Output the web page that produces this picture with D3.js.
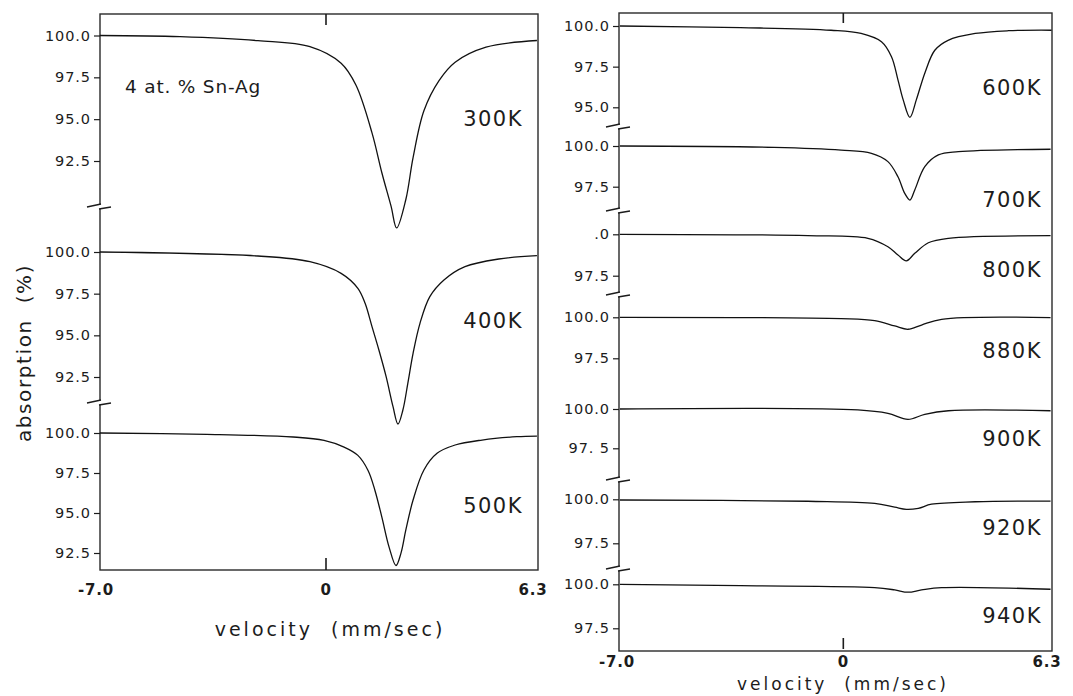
<!DOCTYPE html>
<html><head><meta charset="utf-8">
<script src="https://cdn.jsdelivr.net/npm/d3@7"></script>
<style>
body{margin:0;background:#fff}
svg{display:block}
text{font-family:"DejaVu Sans",sans-serif;fill:#1c1c1c}
</style></head><body>
<svg id="chart" width="1073" height="696"></svg>
<script>
// ---------------- data ----------------
const xTickValues = [-7.0, 0, 6.3];
const xTickLabels = ["-7.0", "0", "6.3"];
const xAxisTitle = "velocity  (mm/sec)";
const yAxisTitle = "absorption  (%)";
const sampleLabel = "4 at. % Sn-Ag";

const temperaturesLeft = ["300K", "400K", "500K"];
const temperaturesRight = ["600K", "700K", "800K", "880K", "900K", "920K", "940K"];

// [velocity (mm/s), absorption (%)]
const spec300 = [[-6.88,100.0],[-4.44,99.93],[-2.07,99.69],[-0.49,99.33],[0.46,98.34],[0.91,97.04],[1.40,94.18],[1.70,91.8],[1.98,89.8],[2.15,88.5],[2.43,90.2],[2.65,92.7],[2.98,95.5],[3.44,97.3],[3.93,98.4],[4.87,99.3],[6.42,99.7]];
const spec400 = [[-6.88,100.0],[-2.07,99.76],[-0.49,99.42],[0.46,98.72],[0.97,97.82],[1.19,96.92],[1.40,95.52],[1.61,94.12],[1.83,92.52],[2.04,90.72],[2.19,89.68],[2.34,90.52],[2.49,92.12],[2.65,93.92],[2.86,95.72],[3.16,97.32],[3.59,98.32],[4.23,99.12],[5.26,99.58],[6.42,99.78]];
const spec500 = [[-6.88,100.0],[-3.63,99.92],[-1.0,99.75],[-0.06,99.54],[0.55,99.12],[0.97,98.6],[1.28,97.66],[1.49,96.41],[1.70,94.74],[1.92,92.87],[2.13,91.72],[2.28,92.48],[2.43,93.94],[2.65,95.81],[2.98,97.69],[3.38,98.73],[3.93,99.25],[4.75,99.56],[5.81,99.77],[6.42,99.81]];
const spec600 = [[-6.91,100.0],[-3.18,99.9],[-0.38,99.74],[0.55,99.54],[1.18,99.03],[1.49,98.11],[1.69,96.69],[1.85,95.47],[2.06,94.38],[2.26,95.47],[2.52,97.1],[2.83,98.51],[3.24,99.12],[4.08,99.54],[5.11,99.71],[6.44,99.74]];
const spec700 = [[-6.91,100.0],[-2.14,99.92],[-0.07,99.75],[0.87,99.55],[1.38,99.04],[1.69,98.11],[1.90,97.09],[2.06,96.68],[2.21,97.3],[2.52,98.73],[2.94,99.45],[3.56,99.65],[6.41,99.8]];
const spec800 = [[-6.91,100.0],[-1.10,99.92],[0.76,99.76],[1.38,99.25],[1.69,98.75],[1.95,98.40],[2.21,98.85],[2.63,99.49],[3.25,99.76],[6.41,99.92]];
const spec880 = [[-6.91,100.0],[-0.07,99.92],[0.97,99.8],[1.59,99.47],[2.00,99.27],[2.42,99.53],[3.04,99.88],[6.41,99.98]];
const spec900 = [[-6.91,100.0],[0.45,99.94],[1.38,99.72],[2.00,99.34],[2.52,99.66],[3.25,99.89],[6.41,99.89]];
const spec920 = [[-6.91,99.96],[-1.10,99.89],[0.97,99.77],[1.59,99.55],[1.95,99.43],[2.32,99.49],[2.73,99.72],[4.08,99.86],[6.41,99.9]];
const spec940 = [[-6.91,100.0],[-3.18,99.92],[0.97,99.81],[1.59,99.68],[2.00,99.55],[2.42,99.68],[3.04,99.81],[6.41,99.72]];

const yTicksLeft = [100.0, 97.5, 95.0, 92.5];
const yTickLabelsLeft = ["100.0", "97.5", "95.0", "92.5"];
const yTicks600 = [100.0, 97.5, 95.0];
const yTickLabels600 = ["100.0", "97.5", "95.0"];
const yTicksRight = [100.0, 97.5];
const yTickLabelsRight = ["100.0", "97.5"];
const yTickLabels800 = [".0", "97.5"];
const yTickLabels900 = ["100.0", "97. 5"];

// ---------------- layout ----------------
const svg = d3.select("#chart");
const ink = "#1c1c1c";

const panels = [
  { frame: {x0: 100, x1: 538, y0: 14, y1: 570}, xRange: [96, 533], xLabelY: 595,
    titleX: 330, titleY: 636, titleSize: 19, breaks: [206, 402], ticksTopBottom: [[14, 25], [558, 570]],
    spectra: [
      {data: spec300, name: temperaturesLeft[0], ticks: yTicksLeft, labels: yTickLabelsLeft, dom: [100, 92.5], rng: [35.5, 161], ly: 126},
      {data: spec400, name: temperaturesLeft[1], ticks: yTicksLeft, labels: yTickLabelsLeft, dom: [100, 92.5], rng: [252, 377], ly: 328},
      {data: spec500, name: temperaturesLeft[2], ticks: yTicksLeft, labels: yTickLabelsLeft, dom: [100, 92.5], rng: [433, 553], ly: 513}
    ], labelRight: 523 },
  { frame: {x0: 619, x1: 1052, y0: 13, y1: 651}, xRange: [617, 1047], xLabelY: 667,
    titleX: 843, titleY: 690, titleSize: 17, breaks: [126, 210, 294, 479, 568], ticksTopBottom: [[13, 23], [638, 649]],
    spectra: [
      {data: spec600, name: temperaturesRight[0], ticks: yTicks600, labels: yTickLabels600, dom: [100, 95], rng: [26, 107.3], ly: 95},
      {data: spec700, name: temperaturesRight[1], ticks: yTicksRight, labels: yTickLabelsRight, dom: [100, 97.5], rng: [146, 186.7], ly: 207},
      {data: spec800, name: temperaturesRight[2], ticks: yTicksRight, labels: yTickLabels800, dom: [100, 97.5], rng: [234.3, 275.7], ly: 277},
      {data: spec880, name: temperaturesRight[3], ticks: yTicksRight, labels: yTickLabelsRight, dom: [100, 97.5], rng: [317.3, 358.3], ly: 358},
      {data: spec900, name: temperaturesRight[4], ticks: yTicksRight, labels: yTickLabels900, dom: [100, 97.5], rng: [409, 448.3], ly: 446},
      {data: spec920, name: temperaturesRight[5], ticks: yTicksRight, labels: yTickLabelsRight, dom: [100, 97.5], rng: [499.3, 543.3], ly: 535},
      {data: spec940, name: temperaturesRight[6], ticks: yTicksRight, labels: yTickLabelsRight, dom: [100, 97.5], rng: [584.3, 628.3], ly: 623}
    ], labelRight: 1042 }
];

panels.forEach(p => {
  const g = svg.append("g");
  const f = p.frame;
  const x = d3.scaleLinear().domain([xTickValues[0], xTickValues[2]]).range(p.xRange);

  // frame
  g.append("rect").attr("x", f.x0).attr("y", f.y0)
    .attr("width", f.x1 - f.x0).attr("height", f.y1 - f.y0)
    .attr("fill", "none").attr("stroke", "#2a2a2a").attr("stroke-width", 1.4);

  // zero ticks top & bottom
  p.ticksTopBottom.forEach(t => {
    g.append("line").attr("x1", x(0)).attr("x2", x(0)).attr("y1", t[0]).attr("y2", t[1])
      .attr("stroke", ink).attr("stroke-width", 1.6);
  });

  // x tick labels
  g.selectAll(".xl").data(xTickValues).enter().append("text")
    .attr("x", d => x(d)).attr("y", p.xLabelY).attr("text-anchor", "middle")
    .attr("font-size", 15).attr("font-weight", "bold").attr("letter-spacing", 0.8)
    .text((d, i) => xTickLabels[i]);

  // x title
  g.append("text").attr("x", p.titleX).attr("y", p.titleY).attr("text-anchor", "middle")
    .attr("font-size", p.titleSize).attr("letter-spacing", 3)
    .style("white-space", "pre").text(xAxisTitle);

  // spectra
  p.spectra.forEach(s => {
    const y = d3.scaleLinear().domain(s.dom).range(s.rng);
    const axis = d3.axisLeft(y).tickValues(s.ticks).tickSize(6)
      .tickFormat((d, i) => s.labels[i]);
    const ag = g.append("g").attr("transform", `translate(${f.x0},0)`).call(axis);
    ag.select(".domain").remove();
    ag.selectAll(".tick line").attr("stroke", ink).attr("stroke-width", 1.2);
    ag.selectAll(".tick text").attr("font-size", 14.5).attr("letter-spacing", 0.9)
      .attr("fill", ink).attr("x", -9)
      .style("font-family", '"DejaVu Sans",sans-serif').style("white-space", "pre");

    const line = d3.line().x(d => x(d[0])).y(d => y(d[1])).curve(d3.curveCatmullRom.alpha(0.5));
    g.append("path").datum(s.data).attr("d", line)
      .attr("fill", "none").attr("stroke", "#111").attr("stroke-width", 1.3);

    g.append("text").attr("x", p.labelRight).attr("y", s.ly).attr("text-anchor", "end")
      .attr("font-size", 21).attr("letter-spacing", 1.5).text(s.name);
  });

  // axis break marks
  p.breaks.forEach(by => {
    const x0 = f.x0;
    g.append("rect").attr("x", x0 - 2).attr("y", by - 2).attr("width", 4).attr("height", 5).attr("fill", "#fff");
    g.append("path")
      .attr("d", `M${x0 - 13},${by + 1}L${x0 + 1},${by - 2}M${x0 - 1},${by + 3}L${x0 + 11},${by + 1}`)
      .attr("fill", "none").attr("stroke", ink).attr("stroke-width", 1.3);
  });
});

// sample label
svg.append("text").attr("x", 125).attr("y", 93).attr("font-size", 18.5).attr("letter-spacing", 0.8)
  .text(sampleLabel);

// y title
svg.append("text").attr("transform", "translate(31,353) rotate(-90)").attr("text-anchor", "middle")
  .attr("font-size", 20).attr("letter-spacing", 1.6).style("white-space", "pre").text(yAxisTitle);
</script>
</body></html>
